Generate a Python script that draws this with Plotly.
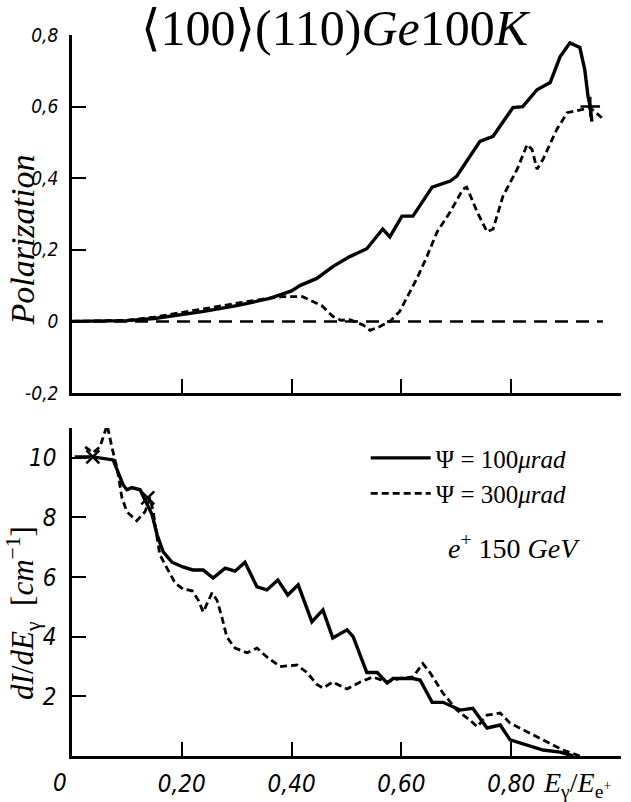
import plotly.graph_objects as go
from plotly.subplots import make_subplots

# ---------------- data ----------------
# top panel: polarization
pol100_x = [0.0, 0.10, 0.15, 0.18, 0.24, 0.30, 0.36, 0.40, 0.415, 0.446, 0.475, 0.506, 0.537, 0.566, 0.579,
            0.601, 0.621, 0.656, 0.689, 0.701, 0.743, 0.767, 0.803, 0.821, 0.847, 0.871, 0.889, 0.907,
            0.925, 0.934, 0.940, 0.944, 0.947]
pol100_y = [0.0, 0.002, 0.008, 0.014, 0.028, 0.044, 0.064, 0.085, 0.10, 0.12, 0.153, 0.181, 0.203, 0.258, 0.236,
            0.294, 0.294, 0.375, 0.392, 0.406, 0.503, 0.517, 0.597, 0.600, 0.647, 0.667, 0.739, 0.778,
            0.765, 0.703, 0.628, 0.600, 0.558]

pol300_x = [0.0, 0.10, 0.15, 0.21, 0.27, 0.31, 0.36, 0.384, 0.42, 0.455, 0.475, 0.49, 0.506, 0.53, 0.543,
            0.56, 0.579, 0.597, 0.628, 0.647, 0.665, 0.689, 0.712, 0.719, 0.738, 0.756, 0.767, 0.785,
            0.811, 0.829, 0.838, 0.847, 0.858, 0.883, 0.902, 0.931, 0.944, 0.965]
pol300_y = [0.0, 0.003, 0.012, 0.028, 0.042, 0.053, 0.065, 0.069, 0.069, 0.044, 0.014, 0.003, 0.005, -0.010, -0.025,
            -0.015, 0.0, 0.028, 0.119, 0.183, 0.25, 0.306, 0.369, 0.375, 0.306, 0.25, 0.258, 0.35,
            0.425, 0.494, 0.48, 0.425, 0.453, 0.536, 0.583, 0.592, 0.597, 0.569]

zero_x = [0.0, 0.967]
zero_y = [0.0, 0.0]

# bottom panel: spectrum dI/dE
spec100_x = [0.005, 0.038, 0.075, 0.084, 0.093, 0.100, 0.109, 0.124, 0.137, 0.146, 0.155, 0.166, 0.182, 0.202,
             0.220, 0.239, 0.257, 0.279, 0.297, 0.315, 0.337, 0.355, 0.375, 0.393, 0.412, 0.437, 0.457, 0.475,
             0.501, 0.512, 0.537, 0.556, 0.574, 0.585, 0.621, 0.634, 0.656, 0.676, 0.707, 0.730, 0.756, 0.780,
             0.798, 0.829, 0.858, 0.889, 0.913]
spec100_y = [10.03, 10.03, 9.93, 9.53, 9.1, 8.93, 9.0, 8.93, 8.42, 8.09, 7.42, 6.85, 6.5, 6.34,
             6.24, 6.24, 5.97, 6.3, 6.2, 6.5, 5.67, 5.57, 5.9, 5.4, 5.74, 4.5, 4.9, 3.96,
             4.23, 4.0, 2.8, 2.8, 2.45, 2.6, 2.6, 2.55, 1.8, 1.8, 1.54, 1.6, 0.94, 1.04,
             0.54, 0.37, 0.2, 0.13, 0.0]

spec300_x = [0.024, 0.038, 0.051, 0.064, 0.073, 0.082, 0.091, 0.100, 0.118, 0.133, 0.142, 0.148, 0.155, 0.160,
             0.173, 0.188, 0.202, 0.219, 0.230, 0.239, 0.255, 0.264, 0.273, 0.282, 0.297, 0.319, 0.337, 0.355,
             0.379, 0.410, 0.428, 0.446, 0.457, 0.475, 0.501, 0.525, 0.548, 0.574, 0.597, 0.621, 0.639, 0.652,
             0.676, 0.701, 0.725, 0.738, 0.756, 0.780, 0.798, 0.834, 0.865, 0.894, 0.925]
spec300_y = [10.37, 10.17, 10.37, 11.1, 10.33, 9.66, 8.66, 8.19, 7.89, 8.19, 8.66, 8.19, 7.32, 6.75,
             6.3, 5.8, 5.6, 5.54, 5.23, 4.83, 5.47, 5.23, 4.66, 3.99, 3.62, 3.46, 3.62, 3.32,
             3.0, 3.05, 2.8, 2.4, 2.28, 2.48, 2.25, 2.48, 2.65, 2.48, 2.6, 2.65, 3.1, 2.8,
             2.1, 1.54, 1.2, 0.98, 1.37, 1.44, 1.1, 0.77, 0.47, 0.2, 0.0]

# crossing marks drawn on the original curves
top_mark_x = [0.944]
top_mark_y = [0.600]
bot_mark_x = [0.038, 0.138]
bot_mark_y = [10.03, 8.66]

# tick labels
x_tickvals = [0.2, 0.4, 0.6, 0.8, 1.0]
x_ticktext = ["0,20", "0,40", "0,60", "0,80", ""]
pol_tickvals = [-0.2, 0.0, 0.2, 0.4, 0.6, 0.8]
pol_ticktext = ["-0,2", "0", "0,2", "0,4", "0,6", "0,8"]
spec_tickvals = [2, 4, 6, 8, 10]
spec_ticktext = ["2", "4", "6", "8", "10"]

legend_names = ["Ψ = 100<i>μrad</i>", "Ψ = 300<i>μrad</i>"]

assert len(pol100_x) == len(pol100_y)
assert len(pol300_x) == len(pol300_y)
assert len(spec100_x) == len(spec100_y)
assert len(spec300_x) == len(spec300_y)

# ---------------- figure ----------------
SERIF = "Liberation Serif, DejaVu Serif, serif"
NARROW = "DejaVu Sans Condensed, Liberation Sans Narrow, sans-serif"
SHORT_DASH = "7px,4px"
LONG_DASH = "13px,8px"

fig = make_subplots(rows=2, cols=1)

fig.add_trace(go.Scatter(x=zero_x, y=zero_y, mode="lines", showlegend=False,
                         line=dict(color="black", width=2.5, dash=LONG_DASH)), row=1, col=1)
fig.add_trace(go.Scatter(x=pol300_x, y=pol300_y, mode="lines", showlegend=False,
                         line=dict(color="black", width=2.8, dash=SHORT_DASH)), row=1, col=1)
fig.add_trace(go.Scatter(x=pol100_x, y=pol100_y, mode="lines", showlegend=False,
                         line=dict(color="black", width=3.4)), row=1, col=1)
fig.add_trace(go.Scatter(x=top_mark_x, y=top_mark_y, mode="markers", showlegend=False,
                         marker=dict(symbol="cross-thin", size=14, line=dict(color="black", width=2.5))),
              row=1, col=1)

fig.add_trace(go.Scatter(x=spec100_x, y=spec100_y, mode="lines", name=legend_names[0],
                         line=dict(color="black", width=3.4)), row=2, col=1)
fig.add_trace(go.Scatter(x=spec300_x, y=spec300_y, mode="lines", name=legend_names[1],
                         line=dict(color="black", width=2.8, dash=SHORT_DASH)), row=2, col=1)
fig.add_trace(go.Scatter(x=bot_mark_x, y=bot_mark_y, mode="markers", showlegend=False,
                         marker=dict(symbol="x-thin", size=13, line=dict(color="black", width=2.5))),
              row=2, col=1)

axis_common = dict(showline=True, linecolor="black", linewidth=2.5, showgrid=False, zeroline=False,
                   ticks="inside", tickcolor="black", tickwidth=2, ticklen=14, mirror=False,
                   automargin=False)

fig.update_xaxes(axis_common)
fig.update_yaxes(axis_common)

fig.update_layout(
    xaxis=dict(domain=[0, 1], range=[0, 1.0], tickmode="array", tickvals=x_tickvals,
               showticklabels=False, anchor="y"),
    yaxis=dict(domain=[0.5035, 1.0], range=[-0.2, 0.8], tickmode="array", tickvals=pol_tickvals,
               ticktext=["<i>%s</i>" % t for t in pol_ticktext],
               tickfont=dict(family=NARROW, size=19, color="black"), ticklabelstandoff=7),
    xaxis2=dict(domain=[0, 1], range=[0, 1.0], tickmode="array", tickvals=x_tickvals,
                ticktext=["<i>%s</i>" % t for t in x_ticktext],
                tickfont=dict(family=NARROW, size=24, color="black"), ticklabelstandoff=4, anchor="y2"),
    yaxis2=dict(domain=[0.0, 0.4549], range=[0, 11], tickmode="array", tickvals=spec_tickvals,
                ticktext=["<i>%s</i>" % t for t in spec_ticktext],
                tickfont=dict(family=NARROW, size=24, color="black"), ticklabelstandoff=8),
)

fig.update_layout(
    width=631, height=802,
    margin=dict(l=72, r=10, t=35, b=46, autoexpand=False),
    paper_bgcolor="white", plot_bgcolor="white",
    showlegend=True,
    legend=dict(x=0.535, y=0.445, xanchor="left", yanchor="top", bgcolor="rgba(0,0,0,0)",
                font=dict(family=SERIF, size=25, color="black"), itemwidth=60,
                tracegroupgap=0),
    annotations=[
        dict(text="⟨100⟩(110)<i>Ge</i>100<i>K</i>", x=0.481, y=1.01, xref="paper", yref="paper",
             xanchor="center", yanchor="middle", showarrow=False,
             font=dict(family=SERIF, size=50, color="black")),
        dict(text="<i>Polarization</i>", x=-0.09, y=0.7157, xref="paper", yref="paper",
             xanchor="center", yanchor="middle", textangle=-90, showarrow=False,
             font=dict(family=SERIF, size=34, color="black")),
        dict(text="<i>dI</i>/<i>dE</i><sub>γ</sub>  [<i>cm</i><sup>−1</sup>]", x=-0.088, y=0.198,
             xref="paper", yref="paper", xanchor="center", yanchor="middle", textangle=-90,
             showarrow=False, font=dict(family=SERIF, size=31, color="black")),
        dict(text="<i>e</i><sup>+</sup> 150 <i>GeV</i>", x=0.805, y=0.291, xref="paper", yref="paper",
             xanchor="center", yanchor="middle", showarrow=False,
             font=dict(family=SERIF, size=28, color="black")),
        dict(text="<i>E</i><sub>γ</sub>/<i>E</i><sub>e<sup>+</sup></sub>", x=0.855, y=-0.04,
             xref="paper", yref="paper", xanchor="left", yanchor="middle", showarrow=False,
             font=dict(family=SERIF, size=28, color="black")),
        dict(text="<i>0</i>", x=-0.022, y=-0.037, xref="paper", yref="paper",
             xanchor="center", yanchor="middle", showarrow=False,
             font=dict(family=NARROW, size=24, color="black")),
    ],
)

fig.write_html("out.html")
